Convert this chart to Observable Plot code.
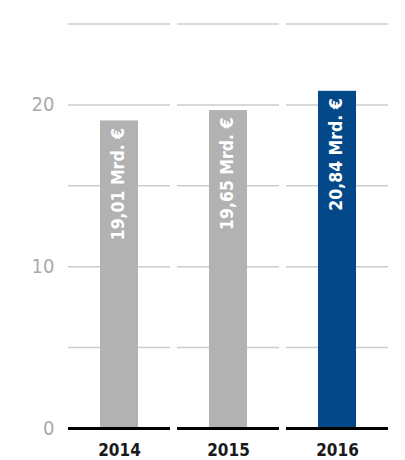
<!DOCTYPE html>
<html>
<head>
<meta charset="utf-8">
<script src="https://cdn.jsdelivr.net/npm/d3@7"></script>
<script src="https://cdn.jsdelivr.net/npm/@observablehq/plot@0.6"></script>
<style>
  html, body { margin: 0; padding: 0; background: #fff; }
</style>
</head>
<body>
<div id="chart"></div>
<script>
const years = ["2014", "2015", "2016"];
const values = [19.01, 19.65, 20.84];
const barLabels = ["19,01 Mrd. €", "19,65 Mrd. €", "20,84 Mrd. €"];
const barColors = ["#b2b2b2", "#b2b2b2", "#03498a"];
const gridValues = [5, 10, 15, 20, 25];
const yTickLabels = [0, 10, 20];

const bars = years.map((year, i) => ({year, value: values[i], label: barLabels[i], color: barColors[i]}));
const grid = years.flatMap(year => gridValues.map(v => ({year, v})));
const base = years.map(year => ({year, v: 0}));

const chart = Plot.plot({
  width: 405,
  height: 460,
  marginLeft: 67,
  marginRight: 16,
  marginTop: 20,
  marginBottom: 32,
  style: {fontFamily: "'DejaVu Sans Condensed', 'DejaVu Sans', sans-serif", background: "#fff"},
  x: {domain: years, paddingInner: 0.06, paddingOuter: 0},
  y: {domain: [0, 25], range: [428, 23.5]},
  color: {type: "identity"},
  marks: [
    Plot.tickY(grid, {x: "year", y: "v", stroke: "#cccccc", strokeWidth: 1.5}),
    Plot.barY(bars, {x: "year", y: "value", fill: "color", insetLeft: 32, insetRight: 32}),
    Plot.tickY(base, {x: "year", y: "v", stroke: "#000", strokeWidth: 3}),
    Plot.text(bars, {x: "year", y: "value", text: "label", rotate: -90, textAnchor: "end", lineAnchor: "middle", dy: 7, dx: -1, fill: "#fff", fontSize: 17.5, fontWeight: "bold"}),
    Plot.axisY(yTickLabels, {tickSize: 0, tickPadding: 13, fontSize: 20, color: "#aaaaaa", label: null}),
    Plot.axisX({tickSize: 0, tickPadding: 15, fontSize: 17, fontWeight: "bold", color: "#1a1a1a", label: null})
  ]
});
document.getElementById("chart").append(chart);
</script>
</body>
</html>
